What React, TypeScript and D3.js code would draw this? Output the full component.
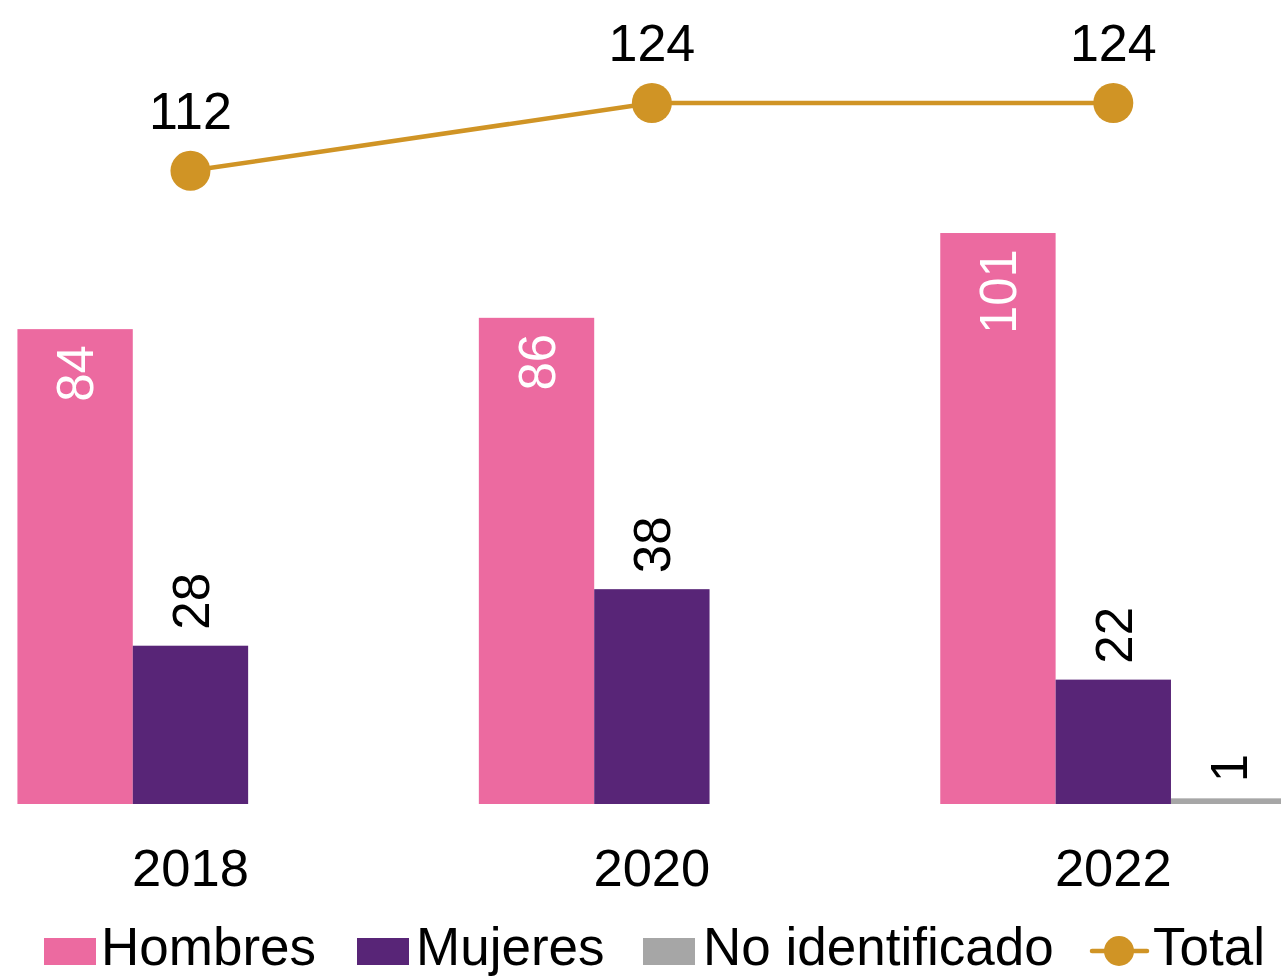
import React from "react";
import * as d3 from "d3";

const years = ["2018", "2020", "2022"];
const series = ["Hombres", "Mujeres", "No identificado"];
const hombres = [84, 86, 101];
const mujeres = [28, 38, 22];
const noIdentificado = [0, 0, 1];
const total = [112, 124, 124];

const colors: Record<string, string> = {
  Hombres: "#EC6AA0",
  Mujeres: "#582577",
  "No identificado": "#A6A6A6",
  Total: "#D09425",
};

const W = 1281;
const H = 977;
const FONT = "'Liberation Sans', Arial, sans-serif";

export default function App() {
  const x = d3.scaleBand<string>().domain(years).range([-40.25, 1344]).padding(0);
  const xi = d3
    .scaleBand<string>()
    .domain(series)
    .range([0, x.bandwidth()])
    .paddingInner(0)
    .paddingOuter(0.5);
  const y = d3.scaleLinear().domain([0, 124]).range([804, 103]);

  const valuesBySeries: Record<string, number[]> = {
    Hombres: hombres,
    Mujeres: mujeres,
    "No identificado": noIdentificado,
  };

  const cx = (yr: string) => (x(yr) as number) + x.bandwidth() / 2;
  const line = d3
    .line<number>()
    .x((_, i) => cx(years[i]))
    .y((d) => y(d));

  const legendItems = [
    { name: "Hombres", sx: 44, tx: 101 },
    { name: "Mujeres", sx: 357, tx: 416 },
    { name: "No identificado", sx: 643, tx: 703 },
  ];

  return (
    <svg
      width={W}
      height={H}
      style={{ position: "absolute", left: 0, top: 0, background: "#fff" }}
      fontFamily={FONT}
    >
      <defs>
        <clipPath id="clip">
          <rect x={0} y={0} width={W} height={H} />
        </clipPath>
      </defs>
      <g clipPath="url(#clip)">
        {series.map((s) =>
          years.map((yr, i) => {
            const v = valuesBySeries[s][i];
            if (!v) return null;
            const bx = (x(yr) as number) + (xi(s) as number);
            return (
              <rect
                key={s + yr}
                x={bx}
                y={y(v)}
                width={xi.bandwidth()}
                height={y(0) - y(v)}
                fill={colors[s]}
              />
            );
          })
        )}
        {years.map((yr, i) => {
          const v = hombres[i];
          const bx = (x(yr) as number) + (xi("Hombres") as number) + xi.bandwidth() / 2;
          const by = y(v) + 16;
          return (
            <text
              key={"hl" + yr}
              transform={`translate(${bx},${by}) rotate(-90)`}
              textAnchor="end"
              dy="0.36em"
              fontSize={51}
              fill="#fff"
            >
              {v}
            </text>
          );
        })}
        {["Mujeres", "No identificado"].map((s) =>
          years.map((yr, i) => {
            const v = valuesBySeries[s][i];
            if (!v) return null;
            const bx = (x(yr) as number) + (xi(s) as number) + xi.bandwidth() / 2;
            const by = y(v) - 16;
            return (
              <text
                key={"ml" + s + yr}
                transform={`translate(${bx},${by}) rotate(-90)`}
                textAnchor="start"
                dy="0.36em"
                fontSize={51}
                fill="#000"
              >
                {v}
              </text>
            );
          })
        )}
        <path d={line(total) || ""} fill="none" stroke={colors.Total} strokeWidth={4.5} />
        {total.map((v, i) => (
          <circle key={"c" + i} cx={cx(years[i])} cy={y(v)} r={20} fill={colors.Total} />
        ))}
        {total.map((v, i) => (
          <text
            key={"tl" + i}
            x={cx(years[i])}
            y={y(v) - 42}
            textAnchor="middle"
            fontSize={52}
            fill="#000"
          >
            {v}
          </text>
        ))}
        {years.map((yr) => (
          <text key={"x" + yr} x={cx(yr)} y={886} textAnchor="middle" fontSize={52.5} fill="#000">
            {yr}
          </text>
        ))}
      </g>
      {legendItems.map((it) => (
        <g key={"lg" + it.name}>
          <rect x={it.sx} y={938} width={52} height={27} fill={colors[it.name]} />
          <text x={it.tx} y={965} fontSize={53} fill="#000">
            {it.name}
          </text>
        </g>
      ))}
      <g>
        <line x1={1092} x2={1147} y1={951} y2={951} stroke={colors.Total} strokeWidth={4.5} strokeLinecap="round" />
        <circle cx={1119} cy={951} r={15} fill={colors.Total} />
        <text x={1153} y={965} fontSize={53} fill="#000">
          Total
        </text>
      </g>
    </svg>
  );
}
